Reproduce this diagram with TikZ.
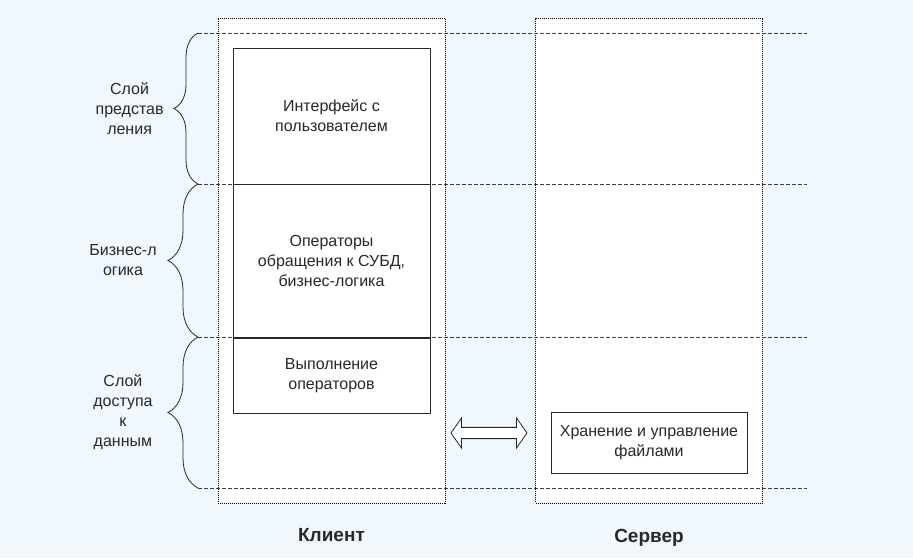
\documentclass[tikz,border=0pt]{standalone}
\usepackage{fontspec}
\setmainfont{Liberation Sans}
\usetikzlibrary{positioning, shapes.arrows, decorations.pathreplacing}
\definecolor{bgblue}{RGB}{240,247,253}
\definecolor{inkgray}{RGB}{40,40,40}

\begin{document}
\begin{tikzpicture}[
  x=1pt, y=-1pt,
  font=\fontsize{16}{20}\selectfont, text=inkgray,
  column/.style     = {draw=black, dash pattern=on 1pt off 1pt, fill=white,
                       line width=0.6pt, minimum width=227pt,
                       minimum height=485pt, inner sep=0pt},
  layerline/.style  = {draw=black!75, dash pattern=on 4pt off 2pt,
                       line width=0.8pt},
  section/.style    = {draw=inkgray, fill=white, line width=0.8pt,
                       minimum width=197pt, align=center, inner sep=0pt},
  layerbrace/.style = {draw=inkgray, line width=0.8pt, decorate,
                       decoration={brace, amplitude=#1}},
  layerlabel/.style = {midway, align=center, inner sep=0pt},
  side/.style       = {font=\fontsize{19}{22}\selectfont\bfseries}
]
\fill[bgblue] (0,0) rectangle (913,558);
\useasboundingbox (0,0) rectangle (913,558);

% columns
\node[column] (client) at (331.5,260.5) {};
\node[column] (server) at (649,260.5) {};

% layer boundaries
\foreach \y [count=\i from 0] in {33,184,337,488} {
  \coordinate (l\i) at (198,\y);
  \coordinate (r\i) at (807,\y);
  \draw[layerline] (l\i) -- (r\i);
}

% client boxes
\node[section, minimum height=136pt] (ui) at (331.5,116)
  {Интерфейс с\\пользователем};
\node[section, minimum height=153pt, below=0pt of ui] (logic)
  {Операторы\\обращения к СУБД,\\бизнес-логика};
\node[section, minimum height=75pt, below=0pt of logic] (exec)
  {Выполнение\\операторов};

% server box
\node[section, minimum width=196pt, minimum height=61pt] (files) at (649,442.5)
  {Хранение и управление\\файлами};

% exchange arrow
\node[double arrow, draw=inkgray, fill=white, line width=0.8pt,
      minimum width=30pt, minimum height=76pt, inner xsep=0pt, inner ysep=5pt,
      double arrow head extend=9pt, double arrow tip angle=110] (link)
      at (489,433) {};

% braces
\draw[layerbrace=24pt] (l1) -- node[layerlabel, left=34pt]
  {Слой\\представ\\ления} (l0);
\draw[layerbrace=30pt] (l2) -- node[layerlabel, left=41pt]
  {Бизнес-л\\огика} (l1);
\draw[layerbrace=30pt] (l3) -- node[layerlabel, left=45pt]
  {Слой\\доступа\\к\\данным} (l2);

\node[side, below=22pt of client.south] (clientname) {Клиент};
\node[side, below=22pt of server.south] (servername) {Сервер};
\end{tikzpicture}
\end{document}
